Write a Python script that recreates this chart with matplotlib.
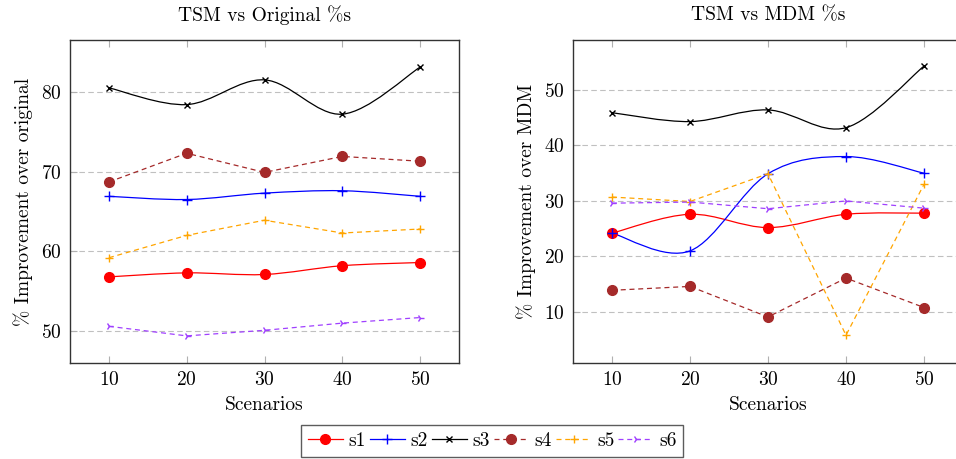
import numpy as np
import matplotlib
matplotlib.use('Agg')
import matplotlib.pyplot as plt
from matplotlib.path import Path
from matplotlib.patches import PathPatch
from matplotlib.lines import Line2D

plt.rcParams['font.family'] = ['cmr10', 'DejaVu Serif']
plt.rcParams['mathtext.fontset'] = 'cm'
plt.rcParams['axes.formatter.use_mathtext'] = True

scenarios = [10, 20, 30, 40, 50]

# TSM vs Original
orig_s1 = [56.8, 57.3, 57.1, 58.2, 58.6]
orig_s2 = [66.9, 66.5, 67.3, 67.6, 66.9]
orig_s3 = [80.5, 78.4, 81.5, 77.2, 83.1]
orig_s4 = [68.7, 72.3, 69.9, 71.9, 71.3]
orig_s5 = [59.2, 62.0, 63.9, 62.3, 62.8]
orig_s6 = [50.6, 49.4, 50.1, 51.0, 51.7]

# TSM vs MDM
mdm_s1 = [24.2, 27.6, 25.2, 27.6, 27.8]
mdm_s2 = [24.2, 21.0, 34.9, 38.0, 35.0]
mdm_s3 = [45.9, 44.3, 46.4, 43.2, 54.3]
mdm_s4 = [13.9, 14.6, 9.1, 16.1, 10.8]
mdm_s5 = [30.7, 29.9, 34.9, 5.8, 33.0]
mdm_s6 = [29.6, 29.8, 28.6, 30.0, 28.7]

names = ['s1', 's2', 's3', 's4', 's5', 's6']
styles = [
    dict(color='red', marker='o', ms=7, ls='-', smooth=True),
    dict(color='blue', marker='+', ms=7, ls='-', smooth=True),
    dict(color='black', marker='x', ms=5, ls='-', smooth=True),
    dict(color='#a52a2a', marker='o', ms=7, ls=(0, (4, 3)), smooth=False),
    dict(color='orange', marker='+', ms=6, ls=(0, (4, 3)), smooth=False),
    dict(color='#a040ff', marker='4', ms=6, ls=(0, (4, 3)), smooth=False),
]


def smooth_path(x, y, k=1/6):
    # catmull-rom style bezier through the points, like pgfplots "smooth"
    pts = np.column_stack([x, y]).astype(float)
    n = len(pts)
    verts = [pts[0]]
    codes = [Path.MOVETO]
    for i in range(n - 1):
        p0 = pts[max(i - 1, 0)]
        p1 = pts[i]
        p2 = pts[i + 1]
        p3 = pts[min(i + 2, n - 1)]
        verts += [p1 + (p2 - p0) * k, p2 - (p3 - p1) * k, p2]
        codes += [Path.CURVE4] * 3
    return Path(verts, codes)


def draw(ax, series, ylim, yticks, title, ylabel):
    for vals, st in zip(series, styles):
        if st['smooth']:
            ax.add_patch(PathPatch(smooth_path(scenarios, vals), fill=False,
                                   edgecolor=st['color'], lw=0.9, ls=st['ls'], zorder=3))
            ax.plot(scenarios, vals, ls='none', marker=st['marker'], ms=st['ms'],
                    color=st['color'], mew=1.0, zorder=4)
        else:
            ax.plot(scenarios, vals, ls=st['ls'], lw=0.9, marker=st['marker'], ms=st['ms'],
                    color=st['color'], mew=1.0, zorder=4)
    ax.set_xlim(5, 55)
    ax.set_ylim(*ylim)
    ax.set_xticks(scenarios)
    ax.set_yticks(yticks)
    ax.yaxis.grid(True, color='#c0c0c0', ls=(0, (5, 3)), lw=0.8)
    ax.set_axisbelow(True)
    ax.tick_params(direction='in', top=True, right=True, length=5, width=0.8,
                   color='#b0b0b0', labelsize=14, pad=6)
    for sp in ax.spines.values():
        sp.set_color('#333333')
        sp.set_linewidth(1.0)
    ax.set_title(title, fontsize=14, pad=14)
    ax.set_xlabel('Scenarios', fontsize=14, labelpad=5)
    ax.set_ylabel(ylabel, fontsize=14, labelpad=6)


fig = plt.figure(figsize=(9.56, 4.59), dpi=100)
ax1 = fig.add_axes([70/956, 1 - 363/459, 389/956, 323/459])
ax2 = fig.add_axes([573/956, 1 - 363/459, 390/956, 323/459])

draw(ax1, [orig_s1, orig_s2, orig_s3, orig_s4, orig_s5, orig_s6], (46, 86.5),
     [50, 60, 70, 80], 'TSM vs Original %s', '% Improvement over original')
draw(ax2, [mdm_s1, mdm_s2, mdm_s3, mdm_s4, mdm_s5, mdm_s6], (0.8, 59),
     [10, 20, 30, 40, 50], 'TSM vs MDM %s', '% Improvement over MDM')

handles = [Line2D([], [], color=st['color'], ls=st['ls'], lw=0.9, marker=st['marker'],
                  ms=st['ms'], mew=1.0) for st in styles]
leg = fig.legend(handles, names, loc='center', bbox_to_anchor=(492/956, 1 - 441/459),
                 ncol=6, fontsize=14, frameon=True, fancybox=False, edgecolor='#333333',
                 handlelength=1.8, handletextpad=0.3, columnspacing=0.2,
                 borderpad=0.35, borderaxespad=0)
leg.get_frame().set_linewidth(1.0)

fig.savefig('out.png', dpi=100)
